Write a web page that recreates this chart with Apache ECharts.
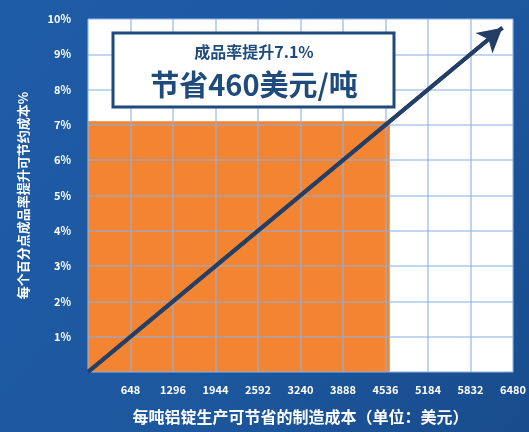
<!DOCTYPE html>
<html><head><meta charset="utf-8">
<script src="https://cdn.jsdelivr.net/npm/echarts@6/dist/echarts.min.js"></script>
<style>html,body{margin:0;padding:0;}#c{width:529px;height:432px;}</style>
</head><body><div id="c"></div>
<script>
const yTicks = [0,1,2,3,4,5,6,7,8,9,10];
const yLabels = ['', '1%','2%','3%','4%','5%','6%','7%','8%','9%','10%'];
const xLabels = ['', '648','1296','1944','2592','3240','3888','4536','5184','5832','6480'];
const yieldGain = 7.1;           // 成品率提升 %
const arrowStart = [0, 0];
const arrowEnd = [9.75, 9.75];
const boxLine1 = '成品率提升7.1%';
const boxLine2 = '节省460美元/吨';
const xTitle = '每吨铝锭生产可节省的制造成本（单位：美元）';
const yTitle = '每个百分点成品率提升可节约成本%';

const chart = echarts.init(document.getElementById('c'));
const font = '"Noto Sans CJK SC", "Noto Sans", sans-serif';
const gridLine = {show:true, lineStyle:{color:'rgba(140,178,228,0.7)', width:1.6}};
chart.setOption({
  backgroundColor: {type:'linear', x:0, y:0, x2:1, y2:1, colorStops:[
    {offset:0, color:'#1f5ca6'},{offset:0.55, color:'#1d589f'},{offset:1, color:'#184c8c'}]},
  grid: {left: 88, right: 14, top: 19, bottom: 60},
  xAxis: {type:'value', min:0, max:10, interval:1, z:3,
    axisLine:{show:false}, axisTick:{show:false}, splitLine:gridLine,
    axisLabel:{color:'#fff', fontWeight:'bold', fontSize:11, fontFamily:font, margin:12,
      formatter: v => xLabels[Math.round(v)] || ''},
    name: xTitle, nameLocation:'middle', nameGap:37,
    nameTextStyle:{color:'#fff', fontWeight:'bold', fontSize:16, fontFamily:font}},
  yAxis: {type:'value', min:0, max:10, interval:1, z:3,
    axisLine:{show:false}, axisTick:{show:false}, splitLine:gridLine,
    axisLabel:{color:'#fff', fontWeight:'bold', fontSize:11, fontFamily:font, margin:17,
      formatter: v => yLabels[yTicks.indexOf(Math.round(v))] || ''},
    name: yTitle, nameLocation:'middle', nameGap:58, nameRotate:90,
    nameTextStyle:{color:'#fff', fontWeight:'bold', fontSize:13, fontFamily:font}},
  series: [
    {type:'line', data:[], z:1,
      markArea:{silent:true, itemStyle:{color:'#fff', opacity:1},
        data:[[{coord:[0,0]},{coord:[10,10]}]]}},
    {type:'line', data:[], z:2,
      markArea:{silent:true, itemStyle:{color:'#f28432', opacity:1},
        data:[[{coord:[0,0]},{coord:[yieldGain,yieldGain]}]]}},
    {type:'line', data:[arrowStart, arrowEnd], z:5, showSymbol:false,
      lineStyle:{color:'#243f66', width:4}, silent:true,
      markLine:{silent:true, symbol:['none','arrow'], symbolSize:[20,24],
        lineStyle:{color:'#243f66', width:4, type:'solid'}, label:{show:false},
        data:[[{coord:arrowStart},{coord:arrowEnd}]]}}
  ],
  graphic: [
    {type:'rect', z:10, shape:{x:113, y:33, width:281, height:74},
      style:{fill:'#fff', stroke:'#1f4a7c', lineWidth:3}},
    {type:'text', z:11, style:{x:254, y:52, text:boxLine1, fill:'#1f4a7c',
      font:'bold 16px '+font, align:'center', verticalAlign:'middle'}},
    {type:'text', z:11, style:{x:254, y:85, text:boxLine2, fill:'#1f4a7c',
      font:'bold 29px '+font, align:'center', verticalAlign:'middle'}}
  ]
});
</script></body></html>
